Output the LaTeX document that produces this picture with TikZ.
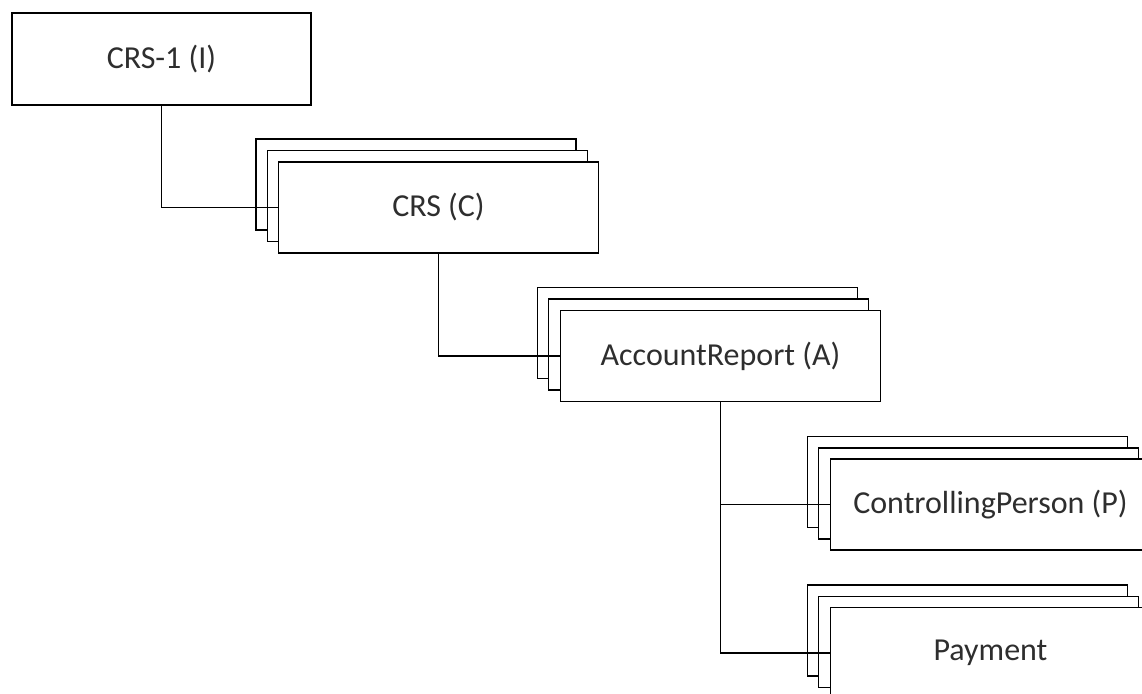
\documentclass[tikz,border=0pt]{standalone}
\usepackage{fontspec}
\setmainfont{Carlito}
\begin{document}
\begin{tikzpicture}[x=1pt,y=-1pt,
  box/.style={draw=black, line width=1.8pt, fill=white, inner sep=0pt,
    minimum width=320pt, minimum height=91pt, text=black!82,
    font=\fontsize{32pt}{38pt}\selectfont},
  link/.style={draw=black, line width=1.8pt}]
\useasboundingbox (0,0) rectangle (1142,693);
\clip (0,0) rectangle (1142,693);
% root
\node[box, minimum width=299pt, minimum height=92pt] (i) at (161.5,59) {CRS-1 (I)};
% CRS stack
\node[box] (c3) at (416,184.5) {};
\node[box] (c2) at (427.5,196) {};
\node[box] (c) at (438.5,207.5) {CRS (C)};
% AccountReport stack
\node[box] (a3) at (697.5,333) {};
\node[box] (a2) at (708.5,344.5) {};
\node[box] (a) at (720.5,356) {AccountReport (A)};
% ControllingPerson stack
\node[box] (p3) at (967.5,482) {};
\node[box] (p2) at (978.5,493.5) {};
\node[box] (p) at (990.5,504.5) {ControllingPerson (P)};
% Payment stack
\node[box] (y3) at (967.5,630.5) {};
\node[box] (y2) at (978.5,642) {};
\node[box] (y) at (990.5,653) {Payment};
% connectors
\draw[link] (i.south) |- (c.west);
\draw[link] (c.south) |- (a.west);
\draw[link] (a.south) |- (p.west);
\draw[link] (a.south) |- (y.west);
\end{tikzpicture}
\end{document}
